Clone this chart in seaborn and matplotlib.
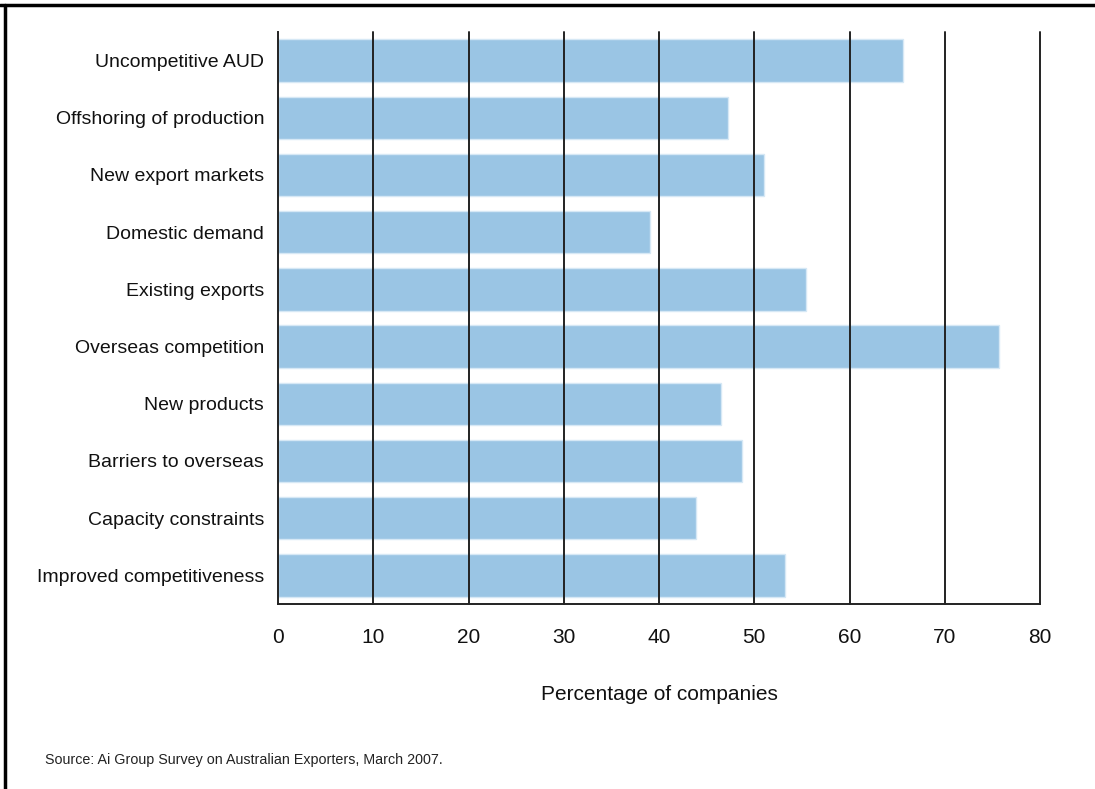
import matplotlib
matplotlib.use("Agg")
import matplotlib.pyplot as plt
import seaborn as sns
import pandas as pd
from matplotlib.lines import Line2D

categories = [
    "Uncompetitive AUD",
    "Offshoring of production",
    "New export markets",
    "Domestic demand",
    "Existing exports",
    "Overseas competition",
    "New products",
    "Barriers to overseas",
    "Capacity constraints",
    "Improved competitiveness",
]
values = [65.6, 47.2, 51.0, 39.1, 55.4, 75.7, 46.5, 48.7, 43.9, 53.2]
x_ticks = [0, 10, 20, 30, 40, 50, 60, 70, 80]
x_label = "Percentage of companies"
source_text = "Source: Ai Group Survey on Australian Exporters, March 2007."

sns.set_theme(style="white")
plt.rcParams["font.family"] = ["Liberation Sans", "DejaVu Sans"]

df = pd.DataFrame({"category": categories, "value": values})

fig = plt.figure(figsize=(10.95, 7.89), dpi=100)
ax = fig.add_axes([278 / 1095, 1 - 604 / 789, (1040 - 278) / 1095, (604 - 32) / 789])

sns.barplot(data=df, x="value", y="category", order=categories, color="#9AC5E4",
            saturation=1, width=0.74, edgecolor="#D6E8F5", linewidth=1.0, ax=ax, zorder=1)

ax.set_xlim(0, 80)
ax.set_ylim(9.5, -0.5)
ax.set_xticks(x_ticks)
ax.set_xticklabels([str(t) for t in x_ticks], fontsize=15, color="#111111")
for t in x_ticks[1:]:
    ax.axvline(t, color="#222222", linewidth=1.4, zorder=3, clip_on=False)
ax.tick_params(axis="x", length=0, pad=17)
ax.tick_params(axis="y", length=0, pad=10, labelsize=14, labelcolor="#111111")
ax.set_ylabel("")
ax.set_xlabel(x_label, fontsize=15, labelpad=28, color="#111111")
for s in ["top", "right"]:
    ax.spines[s].set_visible(False)
for s in ["left", "bottom"]:
    ax.spines[s].set_visible(True)
    ax.spines[s].set_color("#222222")
    ax.spines[s].set_linewidth(1.4)
ax.grid(False)

fig.text(45 / 1095, 1 - 760 / 789, source_text, fontsize=10.3, color="#222222", va="center", ha="left")

fig.add_artist(Line2D([0, 1], [1 - 5 / 789, 1 - 5 / 789], transform=fig.transFigure, color="black", linewidth=2.5))
fig.add_artist(Line2D([5 / 1095, 5 / 1095], [0, 1 - 5 / 789], transform=fig.transFigure, color="black", linewidth=2.5))

fig.savefig("out.png", dpi=100)
